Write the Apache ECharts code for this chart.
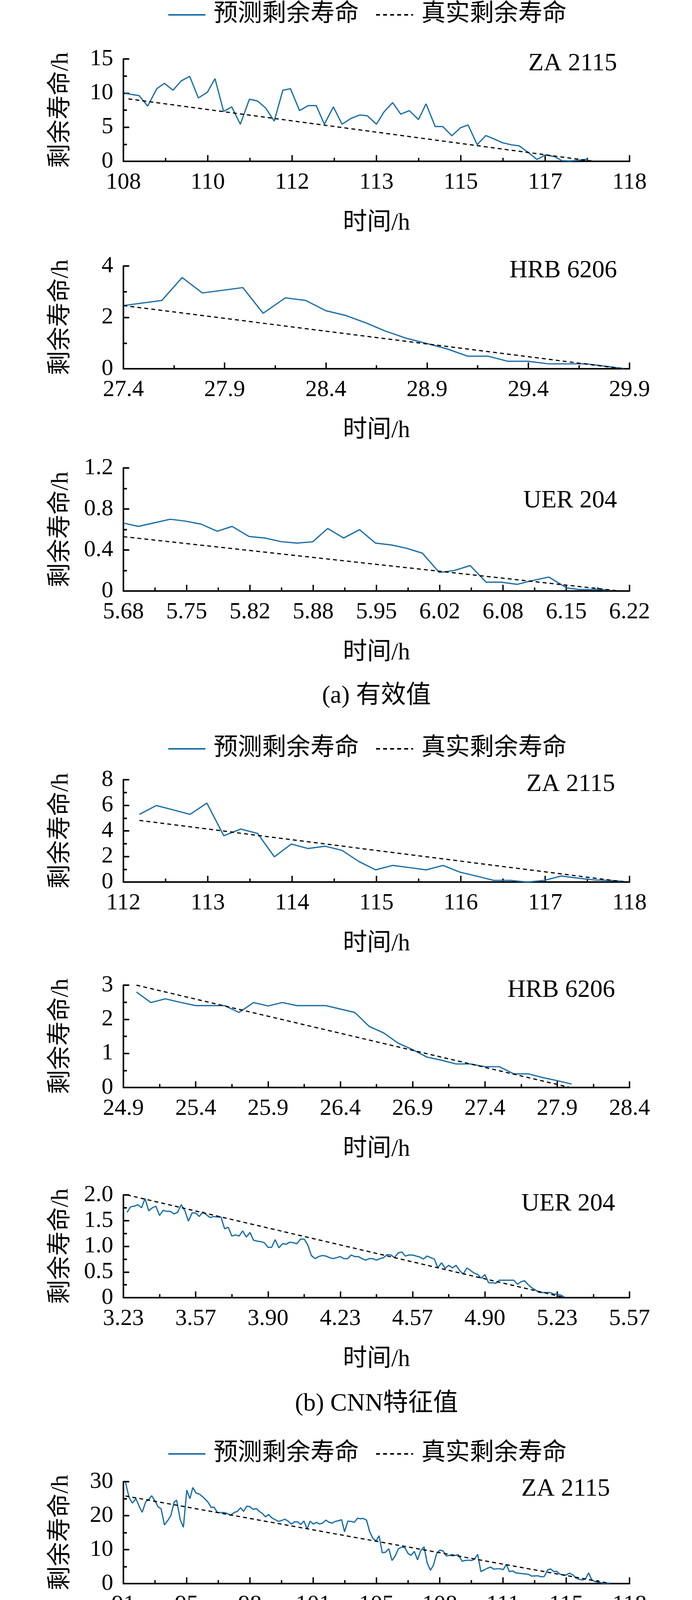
<!DOCTYPE html>
<html>
<head>
<meta charset="utf-8">
<title>剩余寿命预测</title>
<script src="https://cdn.jsdelivr.net/npm/echarts@6/dist/echarts.min.js"></script>
<style>
html, body { margin: 0; padding: 0; background: #fff; }
#main { width: 1772px; height: 5426px; }
</style>
</head>
<body>
<div id="main"></div>
<script>
// ===== (a) 有效值 =====
var zaRmsTime = [108.03,108.31,108.48,108.66,108.81,108.98,109.14,109.31,109.48,109.66,109.81,109.98,110.14,110.31,110.49,110.65,110.81,110.98,111.15,111.30,111.48,111.65,111.81,111.97,112.15,112.32,112.50,112.67,112.82,113.00,113.15,113.32,113.48,113.65,113.83,113.98,114.16,114.31,114.49,114.66,114.81,114.99,115.16,115.32,115.49,115.67,115.82,115.99,116.17,116.34,116.52,116.66,116.82,116.99,117.17];
var zaRmsPred = [9.97,9.63,8.09,10.65,11.44,10.42,11.78,12.46,9.29,10.13,12.12,7.32,7.98,5.44,9.11,8.84,7.82,5.89,10.42,10.65,7.43,8.16,8.16,5.44,7.98,5.44,6.30,6.80,6.68,5.44,7.25,8.61,6.91,7.43,6.12,8.43,5.10,5.10,3.74,4.92,5.33,2.45,3.78,3.29,2.72,2.42,2.27,1.36,0.27,0.95,0.68,0.11,0.05,0.16,0.29];
var zaRmsTrueTime = [108.1, 117.3];
var zaRmsTrueRul = [9.15, 0];

var hrbRmsTime = [27.40,27.59,27.69,27.79,27.99,28.09,28.20,28.30,28.40,28.50,28.60,28.69,28.80,28.90,29.00,29.10,29.20,29.30,29.40,29.50,29.69,29.87];
var hrbRmsPred = [2.46,2.66,3.55,2.95,3.16,2.16,2.76,2.66,2.26,2.07,1.78,1.48,1.18,0.98,0.77,0.49,0.49,0.29,0.29,0.19,0.19,0.01];
var hrbRmsTrueTime = [27.4, 29.87];
var hrbRmsTrueRul = [2.46, 0];

var uerRmsTime = [5.680,5.696,5.714,5.730,5.746,5.763,5.780,5.796,5.814,5.831,5.848,5.865,5.882,5.898,5.915,5.932,5.949,5.966,5.982,5.999,6.017,6.033,6.050,6.067,6.083,6.100,6.116,6.134,6.153,6.166,6.187,6.199];
var uerRmsPred = [0.663,0.630,0.667,0.700,0.682,0.652,0.583,0.630,0.532,0.517,0.482,0.467,0.480,0.610,0.517,0.598,0.467,0.449,0.417,0.369,0.181,0.200,0.248,0.086,0.086,0.065,0.101,0.136,0.030,0.015,0.015,0.008];
var uerRmsTrueTime = [5.68, 6.21];
var uerRmsTrueRul = [0.53, 0];

// ===== (b) CNN特征值 =====
var zaCnnTime = [112.19,112.39,112.59,112.79,112.99,113.19,113.39,113.59,113.79,113.99,114.19,114.39,114.59,114.79,114.99,115.19,115.39,115.59,115.79,115.99,116.19,116.39,116.59,116.79,116.99,117.19,117.39,117.59,117.79,117.93];
var zaCnnPred = [5.29,5.98,5.64,5.29,6.17,3.62,4.14,3.80,1.97,2.97,2.62,2.80,2.48,1.61,0.95,1.30,1.13,0.95,1.30,0.77,0.46,0.13,0.13,0.0,0.13,0.47,0.30,0.16,0.12,0.05];
var zaCnnTrueTime = [112.19, 117.95];
var zaCnnTrueRul = [4.82, 0];

var hrbCnnTime = [24.99,25.09,25.19,25.30,25.40,25.50,25.60,25.70,25.80,25.90,26.00,26.10,26.20,26.30,26.40,26.50,26.60,26.70,26.80,26.90,27.00,27.10,27.20,27.30,27.40,27.50,27.60,27.70,27.80,27.90,28.00];
var hrbCnnPred = [2.80,2.49,2.60,2.49,2.40,2.40,2.40,2.20,2.49,2.39,2.49,2.40,2.40,2.40,2.30,2.20,1.79,1.60,1.30,1.11,0.89,0.80,0.69,0.69,0.61,0.61,0.40,0.40,0.29,0.20,0.10];
var hrbCnnTrueTime = [24.99, 27.99];
var hrbCnnTrueRul = [3.0, 0];

var uerCnnTime = [3.250,3.267,3.283,3.300,3.317,3.333,3.350,3.367,3.383,3.400,
  3.417,3.433,3.450,3.467,3.483,3.500,3.517,3.533,3.550,3.567,
  3.583,3.600,3.617,3.633,3.650,3.667,3.683,3.700,3.717,3.733,
  3.750,3.767,3.783,3.800,3.817,3.833,3.850,3.867,3.883,3.900,
  3.917,3.933,3.950,3.967,3.983,4.000,4.017,4.033,4.050,4.067,
  4.083,4.100,4.117,4.133,4.150,4.167,4.183,4.200,4.217,4.233,
  4.250,4.267,4.283,4.300,4.317,4.333,4.350,4.367,4.383,4.400,
  4.417,4.433,4.450,4.467,4.483,4.500,4.517,4.533,4.550,4.567,
  4.583,4.600,4.617,4.633,4.650,4.667,4.683,4.700,4.717,4.733,
  4.750,4.767,4.783,4.800,4.817,4.833,4.850,4.867,4.883,4.900,
  4.917,4.933,4.950,4.967,4.983,5.000,5.017,5.033,5.050,5.067,
  5.083,5.100,5.117,5.133,5.150,5.167,5.183,5.200,5.217,5.233,
  5.250,5.267];
var uerCnnPred = [1.66,1.77,1.78,1.81,1.75,1.93,1.69,1.75,1.78,1.60,
  1.70,1.68,1.68,1.63,1.66,1.81,1.69,1.49,1.65,1.65,
  1.58,1.67,1.61,1.56,1.58,1.57,1.57,1.34,1.37,1.20,
  1.22,1.20,1.30,1.18,1.27,1.12,1.10,1.09,1.07,0.98,
  0.98,1.13,0.97,1.05,1.04,1.08,1.07,1.05,1.14,1.14,
  1.03,0.82,0.76,0.80,0.82,0.81,0.78,0.76,0.78,0.80,
  0.76,0.76,0.83,0.80,0.80,0.76,0.73,0.76,0.76,0.73,
  0.76,0.78,0.84,0.83,0.78,0.87,0.89,0.81,0.83,0.83,
  0.81,0.79,0.75,0.81,0.78,0.75,0.58,0.68,0.57,0.63,
  0.58,0.63,0.53,0.46,0.58,0.53,0.48,0.45,0.38,0.45,
  0.29,0.29,0.28,0.34,0.34,0.34,0.34,0.34,0.26,0.31,
  0.33,0.25,0.19,0.15,0.10,0.10,0.10,0.10,0.07,0.07,
  0.05,0.01];
var uerCnnTrueTime = [3.25, 5.27];
var uerCnnTrueRul = [2.0, 0];

// ===== (c) Wavelet-CNN特征值 =====
var zaWavTime = [91.11,91.30,91.48,91.67,91.86,92.00,92.19,92.36,92.51,92.67,
  92.86,93.01,93.19,93.38,93.53,93.71,93.84,94.03,94.20,94.38,
  94.55,94.70,94.88,95.05,95.20,95.39,95.54,95.68,95.83,96.02,
  96.20,96.39,96.54,96.72,96.91,97.08,97.25,97.41,97.58,97.75,
  97.91,98.10,98.25,98.42,98.58,98.75,98.92,99.10,99.27,99.44,
  99.61,99.79,99.96,100.13,100.29,100.46,100.63,100.80,100.96,101.13,
  101.30,101.45,101.63,101.80,101.97,102.13,102.30,102.47,102.64,102.80,
  102.97,103.14,103.32,103.49,103.64,103.79,103.97,104.14,104.31,104.48,
  104.64,104.81,104.98,105.16,105.33,105.50,105.67,105.85,106.02,106.19,
  106.35,106.52,106.69,106.86,107.04,107.21,107.38,107.54,107.71,107.88,
  108.04,108.23,108.40,108.56,108.73,108.86,109.07,109.23,109.40,109.59,
  109.74,109.90,110.07,110.24,110.41,110.59,110.76,110.93,111.09,111.26,
  111.43,111.59,111.78,111.93,112.10,112.26,112.45,112.62,112.78,112.95,
  113.12,113.29,113.45,113.64,113.79,113.96,114.12,114.29,114.46,114.62,
  114.79,114.98,115.14,115.31,115.48,115.65,115.82,115.98,116.15,116.32,
  116.48,116.65,116.84,116.99];
var zaWavPred = [29.80,25.39,23.67,25.01,22.52,20.98,24.05,24.82,25.85,24.43,
  22.52,22.02,17.26,18.68,20.02,24.05,24.55,18.87,16.57,27.50,
  25.01,28.27,26.62,26.35,25.70,24.70,23.78,22.40,22.52,20.91,
  20.91,20.91,20.60,20.10,20.91,21.25,22.32,21.25,22.78,22.63,
  21.86,22.06,21.25,20.60,19.64,20.33,19.33,18.80,18.30,18.57,
  18.95,18.37,17.53,18.18,18.18,17.41,18.41,16.11,18.37,17.53,
  18.03,17.53,17.80,18.68,18.03,17.80,18.30,18.49,18.80,15.23,
  18.37,18.30,18.03,19.26,19.06,19.18,18.68,15.23,13.31,12.54,
  14.08,9.09,9.21,10.24,6.79,8.13,10.24,10.74,10.51,8.82,
  8.32,9.47,6.98,9.67,10.82,6.02,3.91,5.45,8.82,9.86,
  9.67,8.13,8.32,8.21,8.32,8.52,6.60,6.79,6.90,6.79,
  7.29,8.59,3.53,3.99,4.49,4.87,4.22,4.37,4.37,4.10,
  5.64,3.53,3.72,3.15,3.07,2.95,2.84,2.69,2.19,2.26,
  2.30,1.99,2.07,4.10,4.30,3.53,3.61,2.76,2.57,2.53,
  3.07,2.57,1.61,1.30,1.04,1.42,3.15,1.15,0.58,0.46,
  0.27,0.08,0.15,0.08];
var zaWavTrueTime = [91.11, 117.0];
var zaWavTrueRul = [25.78, 0];

var hrbWavTime = [21.30,21.41,21.51,21.60,21.70,21.80,21.90,22.00,22.10,22.21,22.31,22.40,22.50,22.60,22.69,22.80,22.90,23.00,23.11,23.20,23.30,23.40,23.49,23.59,23.70,23.80,23.90,23.99,24.10,24.20,24.30,24.40,24.50,24.60,24.71,24.80,24.90,25.01,25.10,25.20,25.31,25.39,25.50,25.60,25.69,25.79,25.90,26.00,26.09,26.19,26.30,26.40,26.50,26.60,26.71,26.80,26.90,26.99,27.09,27.16,27.28,27.38,27.48,27.56];
var hrbWavPred = [6.47,6.21,6.77,6.77,5.49,4.98,5.46,5.67,5.77,5.32,5.12,4.75,4.64,4.98,5.46,4.75,4.64,4.37,5.46,5.97,5.08,3.67,5.05,4.76,5.87,4.98,4.37,4.65,4.25,4.16,3.45,2.96,3.88,3.77,3.06,2.58,1.94,2.65,2.86,2.46,3.08,3.14,1.74,2.75,2.07,2.07,2.35,1.94,2.35,1.37,1.71,0.96,1.33,0.76,0.65,0.65,0.55,0.41,0.23,0.02,0.12,0.17,0.17,0.02];
var hrbWavTrueTime = [21.3, 27.58];
var hrbWavTrueRul = [6.41, 0];

var uerWavTime = [2.000,2.017,2.033,2.050,2.066,2.083,2.100,2.116,2.133,2.150,2.166,2.183,2.250,2.265];
var uerWavPred = [0.249,0.216,0.249,0.166,0.233,0.182,0.149,0.183,0.099,0.099,0.065,0.099,0.031,0.002];
var uerWavTrueTime = [2.0, 2.279];
var uerWavTrueRul = [0.282, 0];

// 坐标轴刻度标签
var zaRmsXLabels = ['108','110','112','113','115','117','118'];
var hrbRmsXLabels = ['27.4','27.9','28.4','28.9','29.4','29.9'];
var uerRmsXLabels = ['5.68','5.75','5.82','5.88','5.95','6.02','6.08','6.15','6.22'];
var zaCnnXLabels = ['112','113','114','115','116','117','118'];
var hrbCnnXLabels = ['24.9','25.4','25.9','26.4','26.9','27.4','27.9','28.4'];
var uerCnnXLabels = ['3.23','3.57','3.90','4.23','4.57','4.90','5.23','5.57'];
var zaWavXLabels = ['91','95','98','101','105','108','111','115','118'];
var hrbWavXLabels = ['21.2','22.2','23.2','24.2','25.2','26.2','27.2','28.2'];
var uerWavXLabels = ['2.00','2.05','2.10','2.15','2.20','2.25','2.30'];

var zaRmsYLabels = ['0','5','10','15'];
var hrbRmsYLabels = ['0','2','4'];
var uerRmsYLabels = ['0','0.4','0.8','1.2'];
var zaCnnYLabels = ['0','2','4','6','8'];
var hrbCnnYLabels = ['0','1','2','3'];
var uerCnnYLabels = ['0','0.5','1.0','1.5','2.0'];
var zaWavYLabels = ['0','10','20','30'];
var hrbWavYLabels = ['0','2','4','6','8'];
var uerWavYLabels = ['0','0.1','0.2','0.3'];

var bearingNames = ['ZA 2115', 'HRB 6206', 'UER 204'];
var captions = ['(a) 有效值', '(b) CNN特征值', '(c) Wavelet-CNN特征值'];
var seriesNames = ['预测剩余寿命', '真实剩余寿命'];

// 各子图的数据和坐标范围
var panels = [
  {t: zaRmsTime, v: zaRmsPred, tt: zaRmsTrueTime, tv: zaRmsTrueRul, xMin: 108, xMax: 118, xLabels: zaRmsXLabels, yStep: 5, yLabels: zaRmsYLabels},
  {t: hrbRmsTime, v: hrbRmsPred, tt: hrbRmsTrueTime, tv: hrbRmsTrueRul, xMin: 27.4, xMax: 29.9, xLabels: hrbRmsXLabels, yStep: 2, yLabels: hrbRmsYLabels},
  {t: uerRmsTime, v: uerRmsPred, tt: uerRmsTrueTime, tv: uerRmsTrueRul, xMin: 5.68, xMax: 6.22, xLabels: uerRmsXLabels, yStep: 0.4, yLabels: uerRmsYLabels},
  {t: zaCnnTime, v: zaCnnPred, tt: zaCnnTrueTime, tv: zaCnnTrueRul, xMin: 112, xMax: 118, xLabels: zaCnnXLabels, yStep: 2, yLabels: zaCnnYLabels},
  {t: hrbCnnTime, v: hrbCnnPred, tt: hrbCnnTrueTime, tv: hrbCnnTrueRul, xMin: 24.9, xMax: 28.4, xLabels: hrbCnnXLabels, yStep: 1, yLabels: hrbCnnYLabels},
  {t: uerCnnTime, v: uerCnnPred, tt: uerCnnTrueTime, tv: uerCnnTrueRul, xMin: 97 / 30, xMax: 167 / 30, xLabels: uerCnnXLabels, yStep: 0.5, yLabels: uerCnnYLabels},
  {t: zaWavTime, v: zaWavPred, tt: zaWavTrueTime, tv: zaWavTrueRul, xMin: 91, xMax: 118, xLabels: zaWavXLabels, yStep: 10, yLabels: zaWavYLabels},
  {t: hrbWavTime, v: hrbWavPred, tt: hrbWavTrueTime, tv: hrbWavTrueRul, xMin: 21.2, xMax: 28.2, xLabels: hrbWavXLabels, yStep: 2, yLabels: hrbWavYLabels},
  {t: uerWavTime, v: uerWavPred, tt: uerWavTrueTime, tv: uerWavTrueRul, xMin: 2.0, xMax: 2.3, xLabels: uerWavXLabels, yStep: 0.1, yLabels: uerWavYLabels}
];

// 版面位置
var gridTops = [151, 681, 1198, 1996, 2522, 3059, 3793, 4320, 4853];
var gridHeights = [262, 263, 315, 262, 262, 263, 261, 261, 260];
var tagPos = [[1580, 163], [1580, 693], [1580, 1282], [1575, 2008], [1575, 2535], [1575, 3082], [1562, 3812], [1562, 4347], [1562, 4875]];
var legendTops = [2, 1881, 3686];
var captionY = [1782, 3594, 5385];

var FONT = '"Liberation Serif", "Noto Sans CJK SC", serif';
var BLUE = '#1a6ea8';

var myChart = echarts.init(document.getElementById('main'), null, {renderer: 'canvas'});

var grids = [], xAxes = [], yAxes = [], series = [], graphics = [];

panels.forEach(function (p, i) {
  grids.push({left: 316, width: 1296, top: gridTops[i], height: gridHeights[i], outerBoundsMode: 'none'});

  var n = p.xLabels.length - 1;
  var step = (p.xMax - p.xMin) / n;
  var major = [], minor = [];
  for (var k = 0; k <= n; k++) {
    major.push(p.xMin + k * step);
    if (k < n) minor.push(p.xMin + (k + 0.5) * step);
  }

  // 主x轴：长刻度 + 标签
  xAxes.push({
    type: 'value', gridIndex: i, position: 'bottom', min: p.xMin, max: p.xMax,
    name: '时间/h', nameLocation: 'middle', nameGap: 128,
    nameTextStyle: {fontSize: 62, fontFamily: FONT, color: '#000'},
    axisLine: {show: true, onZero: false, lineStyle: {color: '#000', width: 4}},
    axisTick: {show: true, inside: true, length: 16, customValues: major, lineStyle: {color: '#000', width: 3.5}},
    axisLabel: {
      show: true, margin: 24, customValues: major, fontSize: 60, fontFamily: FONT, color: '#000',
      formatter: (function (labels, min, st) {
        return function (val) { return labels[Math.round((val - min) / st)]; };
      })(p.xLabels, p.xMin, step)
    },
    splitLine: {show: false}
  });
  // 副x轴：短刻度
  xAxes.push({
    type: 'value', gridIndex: i, position: 'bottom', min: p.xMin, max: p.xMax,
    axisLine: {show: false},
    axisTick: {show: true, inside: true, length: 9, customValues: minor, lineStyle: {color: '#000', width: 3.5}},
    axisLabel: {show: false, customValues: minor},
    splitLine: {show: false}
  });

  yAxes.push({
    type: 'value', gridIndex: i, position: 'left', min: 0,
    max: p.yStep * (p.yLabels.length - 1), interval: p.yStep,
    name: '剩余寿命/h', nameLocation: 'middle', nameGap: 128,
    nameTextStyle: {fontSize: 62, fontFamily: FONT, color: '#000'},
    axisLine: {show: true, lineStyle: {color: '#000', width: 4}},
    axisTick: {show: true, inside: true, length: 15, lineStyle: {color: '#000', width: 4}},
    minorTick: {show: true, splitNumber: 2, length: 9, lineStyle: {color: '#000', width: 4}},
    axisLabel: {
      margin: 26, fontSize: 60, fontFamily: FONT, color: '#000',
      formatter: (function (labels, st) {
        return function (val) { return labels[Math.round(val / st)]; };
      })(p.yLabels, p.yStep)
    },
    splitLine: {show: false}
  });

  var pred = p.t.map(function (x, j) { return [x, p.v[j]]; });
  var real = p.tt.map(function (x, j) { return [x, p.tv[j]]; });
  series.push({
    name: seriesNames[0], type: 'line', xAxisIndex: i * 2, yAxisIndex: i,
    data: pred, symbol: 'none', smooth: false,
    lineStyle: {color: BLUE, width: 3.2}, itemStyle: {color: BLUE}
  });
  series.push({
    name: seriesNames[1], type: 'line', xAxisIndex: i * 2, yAxisIndex: i,
    data: real, symbol: 'none',
    lineStyle: {color: '#000', width: 3, type: [10, 8]}, itemStyle: {color: '#000'}
  });

  graphics.push({
    type: 'text', x: tagPos[i][0], y: tagPos[i][1],
    style: {text: bearingNames[i % 3], fontSize: 64, fontFamily: FONT, fill: '#000',
      textAlign: 'right', textVerticalAlign: 'middle'}
  });
});

captions.forEach(function (c, i) {
  graphics.push({
    type: 'text', x: 964, y: captionY[i],
    style: {text: c, fontSize: 64, fontFamily: FONT, fill: '#000',
      textAlign: 'center', textVerticalAlign: 'middle'}
  });
});

// 图例：只画线，不画圆点
var legends = legendTops.map(function (top) {
  return {
    left: 424, top: top, data: seriesNames, itemWidth: 95, itemHeight: 14, itemGap: 42,
    itemStyle: {opacity: 0},
    lineStyle: {width: 4},
    textStyle: {fontSize: 62, fontFamily: FONT, color: '#000', padding: [0, 0, 0, 16]}
  };
});

myChart.setOption({
  backgroundColor: '#fff',
  animation: false,
  legend: legends,
  grid: grids,
  xAxis: xAxes,
  yAxis: yAxes,
  series: series,
  graphic: graphics
});
</script>
</body>
</html>
